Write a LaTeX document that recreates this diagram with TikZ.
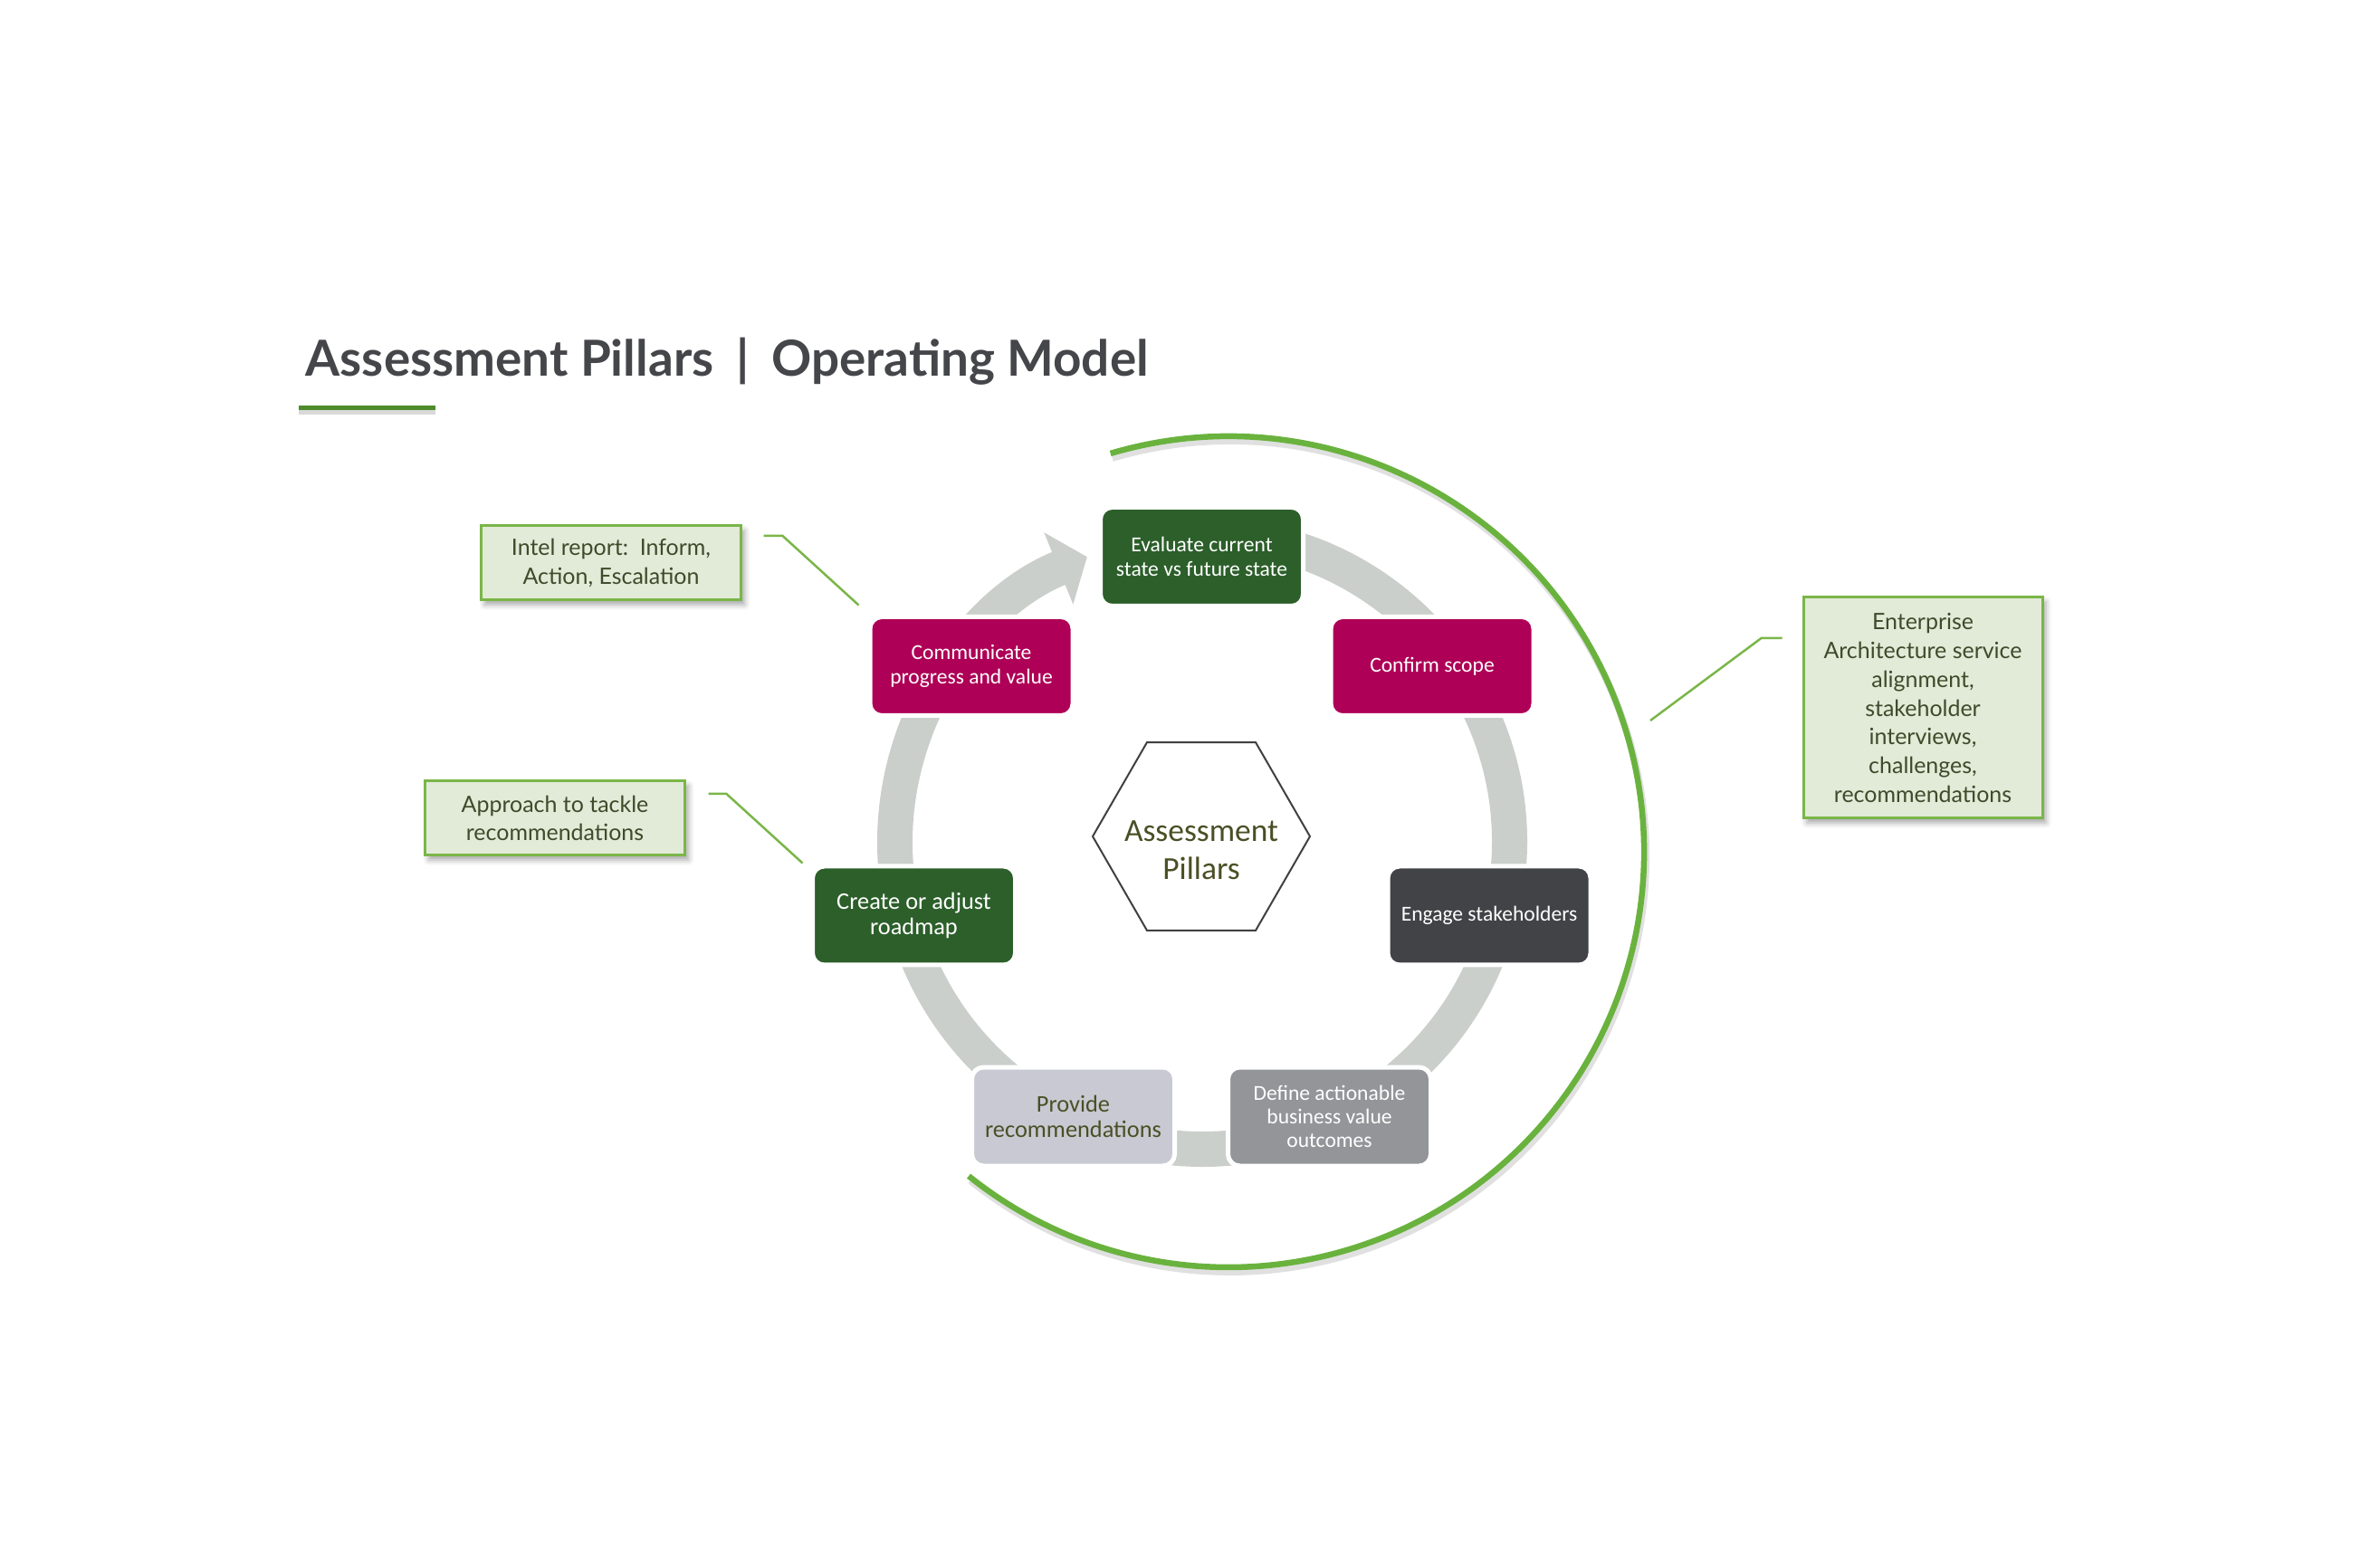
\documentclass[tikz,border=0pt]{standalone}
\usepackage{fontspec}
\setmainfont{Carlito}
\newfontfamily\latofont{Lato}
\usetikzlibrary{arrows.meta,shapes.geometric,shadows.blur}

\definecolor{pillargreen}{HTML}{2C5F2A}
\definecolor{pillarmagenta}{HTML}{AE0056}
\definecolor{pillardark}{HTML}{424346}
\definecolor{pillargrey}{HTML}{939598}
\definecolor{pillarlight}{HTML}{C8C9D2}
\definecolor{olivetext}{HTML}{4A4F25}
\definecolor{ringgrey}{HTML}{CBCFCB}
\definecolor{arcgreen}{HTML}{6AB23E}
\definecolor{notefill}{HTML}{E2EAD8}
\definecolor{calloutgreen}{HTML}{7AB648}
\definecolor{notetext}{HTML}{3F4A2A}
\definecolor{titlegrey}{HTML}{45464A}
\definecolor{rulegreen}{HTML}{4E8B2C}

\begin{document}
\begin{tikzpicture}[
  title/.style={font=\latofont\bfseries\fontsize{15.6}{19}\selectfont, text=titlegrey, inner sep=0pt, anchor=west},
  titlerule/.style={draw=rulegreen, line width=0.05cm},
  ring/.style={draw=ringgrey, line width=0.39cm, -{Triangle[length=0.34cm,width=0.84cm]}},
  bigarc/.style={draw=arcgreen, line width=0.065cm},
  arcshadow/.style={draw=black, opacity=0.12, line width=0.08cm},
  stagebox/.style={rectangle, rounded corners=0.13cm, draw=white, line width=0.05cm, minimum width=2.24cm, minimum height=1.09cm, align=center, text=white, inner sep=1pt, font=\fontsize{6.7}{7.7}\selectfont},
  greenstage/.style={stagebox, fill=pillargreen},
  magentastage/.style={stagebox, fill=pillarmagenta},
  darkstage/.style={stagebox, fill=pillardark},
  greystage/.style={stagebox, fill=pillargrey, font=\fontsize{6.7}{7.4}\selectfont},
  lightstage/.style={stagebox, fill=pillarlight, text=olivetext},
  bigtext/.style={font=\fontsize{7.5}{8.1}\selectfont},
  hub/.style={regular polygon, regular polygon sides=6, draw=black!75, line width=0.02cm, minimum size=2.40cm, inner sep=0pt},
  hubtext/.style={text=olivetext, align=center, inner sep=0pt, font=\fontsize{10.1}{11.9}\selectfont},
  note/.style={rectangle, draw=calloutgreen, line width=0.03cm, fill=notefill, text=notetext, align=center, inner sep=1pt, font=\latofont\fontsize{7.1}{9.05}\selectfont, blur shadow={shadow xshift=0.04cm, shadow yshift=-0.05cm, shadow blur radius=0.06cm, shadow opacity=35}},
  leader/.style={draw=calloutgreen, line width=0.025cm}
]
\useasboundingbox (0,0) rectangle (26.29,17.08);

\node[title] (title) at (3.37,13.09) {Assessment Pillars\hspace{0.45em}|\hspace{0.45em}Operating Model};
\coordinate (ruleL) at (3.30,12.57);
\coordinate (ruleR) at (4.81,12.57);
\draw[titlerule, draw=black, opacity=0.15, line width=0.07cm] ([yshift=-0.04cm]ruleL) -- ([yshift=-0.04cm]ruleR);
\draw[titlerule] (ruleL) -- (ruleR);

\coordinate (centre) at (13.28,7.78);
\coordinate (arccentre) at (13.57,7.67);
\draw[arcshadow] ([shift={(0.02,-0.05)}]arccentre) ++(106.5:4.59) arc[start angle=106.5, end angle=-128.7, radius=4.59];
\draw[bigarc] (arccentre) ++(106.5:4.59) arc[start angle=106.5, end angle=-128.7, radius=4.59];
\draw[ring] (centre) ++(85:3.395) arc[start angle=85, end angle=-248, radius=3.395];

\node[greenstage] (evaluate) at (13.275,10.93) {Evaluate current\\state vs future state};
\node[magentastage] (scope) at (15.82,9.72) {Confirm scope};
\node[darkstage] (engage) at (16.45,6.965) {Engage stakeholders};
\node[greystage] (outcomes) at (14.685,4.745) {Define actionable\\business value\\outcomes};
\node[lightstage, bigtext] (recommend) at (11.855,4.745) {Provide\\recommendations};
\node[greenstage, bigtext] (roadmap) at (10.095,6.965) {Create or adjust\\roadmap};
\node[magentastage] (communicate) at (10.73,9.72) {Communicate\\progress and value};

\node[hub] (pillars) at (13.27,7.84) {};
\node[hubtext] (pillarstext) at ([yshift=-0.15cm]pillars.center) {Assessment\\Pillars};

\node[note, minimum width=2.87cm, minimum height=0.82cm] (intel) at (6.75,10.86) {Intel report:\ \ Inform,\\Action, Escalation};
\node[note, minimum width=2.87cm, minimum height=0.82cm] (approach) at (6.13,8.04) {Approach to tackle\\recommendations};
\node[note, minimum width=2.64cm, minimum height=2.44cm] (enterprise) at (21.24,9.26) {Enterprise\\Architecture service\\alignment,\\stakeholder\\interviews,\\challenges,\\recommendations};

\coordinate (archook) at (18.23,9.12);
\draw[leader] ([shift={(0.235,0.30)}]intel.east) -- ++(0.21,0) -- ([shift={(-0.10,0.105)}]communicate.north west);
\draw[leader] ([shift={(0.245,0.27)}]approach.east) -- ++(0.20,0) -- ([shift={(-0.085,0.01)}]roadmap.north west);
\draw[leader] ([shift={(-0.22,0.77)}]enterprise.west) -- ++(-0.23,0) -- (archook);
\end{tikzpicture}
\end{document}
